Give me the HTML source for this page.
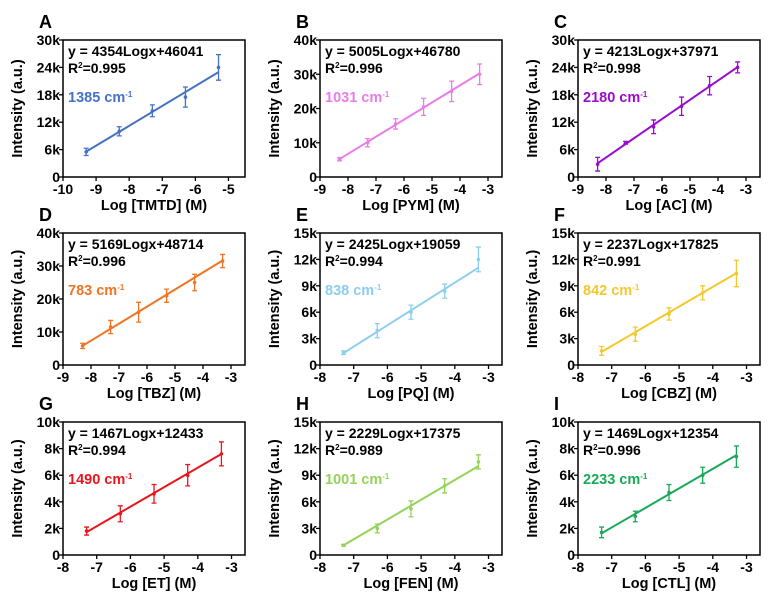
<!DOCTYPE html>
<html><head><meta charset="utf-8"><style>
body{margin:0;background:#fff;}
svg{display:block;font-family:"Liberation Sans",Arial,sans-serif;font-weight:bold;}
</style></head><body>
<svg id="c" width="780" height="596" viewBox="0 0 780 596"></svg>
<script>
const panelLetters=["A","B","C","D","E","F","G","H","I"];
const analytes=["TMTD","PYM","AC","TBZ","PQ","CBZ","ET","FEN","CTL"];
const equations=["y = 4354Logx+46041","y = 5005Logx+46780","y = 4213Logx+37971","y = 5169Logx+48714","y = 2425Logx+19059","y = 2237Logx+17825","y = 1467Logx+12433","y = 2229Logx+17375","y = 1469Logx+12354"];
const slopes=[4354,5005,4213,5169,2425,2237,1467,2229,1469];
const intercepts=[46041,46780,37971,48714,19059,17825,12433,17375,12354];
const r2=["0.995","0.996","0.998","0.996","0.994","0.991","0.994","0.989","0.996"];
const wavenumbers=["1385","1031","2180","783","838","842","1490","1001","2233"];
const colors=["#4472c4","#e97de8","#9a0ccc","#ef7424","#8dcdee","#f5c82c","#e8161c","#94d35a","#18a957"];
const xConc=[[-9.3,-8.3,-7.3,-6.3,-5.3],[-8.3,-7.3,-6.3,-5.3,-4.3,-3.3],[-8.3,-7.3,-6.3,-5.3,-4.3,-3.3],[-8.3,-7.3,-6.3,-5.3,-4.3,-3.3],[-7.3,-6.3,-5.3,-4.3,-3.3],[-7.3,-6.3,-5.3,-4.3,-3.3],[-7.3,-6.3,-5.3,-4.3,-3.3],[-7.3,-6.3,-5.3,-4.3,-3.3],[-7.3,-6.3,-5.3,-4.3,-3.3]];
const intensities=[[5.5,10,14.5,17.5,24],[5.2,10,15.5,20.5,25,30],[2.8,7.5,11,15.5,20,24],[5.8,11.5,16,21,25,31.5],[1.4,3.9,6,8.4,12],[1.6,3.5,5.8,8.2,10.4],[1.8,3.1,4.6,6,7.6],[1.1,3,5.2,7.8,10.5],[1.7,2.9,4.7,6,7.4]];
const errors=[[0.8,1,1.3,2.2,2.8],[0.5,1.2,1.5,2.5,3,3],[1.5,0.3,1.5,2,2,1.2],[0.8,2,3,2,2.5,2],[0.2,0.8,0.8,0.8,1.4],[0.5,0.8,0.7,0.8,1.5],[0.3,0.6,0.7,0.8,0.9],[0.1,0.5,0.9,0.8,0.8],[0.4,0.4,0.6,0.6,0.8]];
const xTicks=[[-10,-9,-8,-7,-6,-5],[-9,-8,-7,-6,-5,-4,-3],[-9,-8,-7,-6,-5,-4,-3],[-9,-8,-7,-6,-5,-4,-3],[-8,-7,-6,-5,-4,-3],[-8,-7,-6,-5,-4,-3],[-8,-7,-6,-5,-4,-3],[-8,-7,-6,-5,-4,-3],[-8,-7,-6,-5,-4,-3]];
const xMax=[-4.5,-2.5,-2.5,-2.5,-2.6,-2.6,-2.6,-2.6,-2.6];
const yTicks=[[0,6,12,18,24,30],[0,10,20,30,40],[0,6,12,18,24,30],[0,10,20,30,40],[0,3,6,9,12,15],[0,3,6,9,12,15],[0,2,4,6,8,10],[0,3,6,9,12,15],[0,2,4,6,8,10]];

const NS="http://www.w3.org/2000/svg";
const svg=document.getElementById('c');
function mk(tag,attrs,parent,text){const e=document.createElementNS(NS,tag);for(const k in attrs)e.setAttribute(k,attrs[k]);if(text!==undefined)e.textContent=text;(parent||svg).appendChild(e);return e;}
const colL=[63,320,578],rowT=[40,233,422],rowH=[137,132,133],W=182;
for(let p=0;p<9;p++){
  const L=colL[p%3],T=rowT[Math.floor(p/3)],H=rowH[Math.floor(p/3)];
  const xt=xTicks[p],yt=yTicks[p];
  const x0=xt[0],x1=xMax[p],yMax=yt[yt.length-1];
  const X=v=>L+(v-x0)/(x1-x0)*W;
  const Y=v=>T+H-(v/yMax)*H;
  const g=mk('g',{});
  
  
  const lt=mk('text',{x:L-24,y:T-12,'font-size':18},g,panelLetters[p]);
  
  xt.forEach(v=>{
    mk('line',{x1:X(v),x2:X(v),y1:T+H,y2:T+H+4,stroke:'#000','stroke-width':1.3},g);
    const t=mk('text',{x:X(v),y:T+H+17,'font-size':14,'text-anchor':'middle'},g,String(v));
    
  });
  yt.forEach(v=>{
    mk('line',{x1:L-4,x2:L,y1:Y(v),y2:Y(v),stroke:'#000','stroke-width':1.3},g);
    const t=mk('text',{x:L-3,y:Y(v)+5,'font-size':14,'text-anchor':'end'},g,v===0?'0':v+'k');
    
  });
  const yl=mk('text',{x:0,y:0,'font-size':14.5,'text-anchor':'middle',transform:`translate(${L-41},${T+H/2}) rotate(-90)`},g,'Intensity (a.u.)');
  
  const xl=mk('text',{x:L+W/2,y:T+H+33,'font-size':14.5,'text-anchor':'middle'},g,'Log ['+analytes[p]+'] (M)');
  
  const xs=xConc[p],ys=intensities[p],es=errors[p],col=colors[p];
  const fa=xs[0],fb=xs[xs.length-1];
  const fit=mk('line',{x1:X(fa),y1:Y((slopes[p]*fa+intercepts[p])/1000),x2:X(fb),y2:Y((slopes[p]*fb+intercepts[p])/1000),stroke:col,'stroke-width':2},g);
  
  xs.forEach((xv,i)=>{
    const cx=X(xv),cy=Y(ys[i]),e1=Y(ys[i]+es[i]),e2=Y(ys[i]-es[i]);
    const eb=mk('path',{d:`M${cx},${e1}V${e2}M${cx-2.5},${e1}h5M${cx-2.5},${e2}h5`,stroke:col,'stroke-width':1.3,fill:'none'},g);
    
    const pt=mk('circle',{cx:cx,cy:cy,r:1.8,fill:col},g);
    
  });
  const eq=mk('text',{x:L+5,y:T+16,'font-size':14},g,equations[p]);
  
  const rr=mk('text',{x:L+5,y:T+33,'font-size':14},g);
  
  rr.innerHTML='R<tspan font-size="8" dy="-5">2</tspan><tspan dy="5">='+r2[p]+'</tspan>';
  const wn=mk('text',{x:L+5,y:T+62,'font-size':14.5,fill:col},g);
  
  wn.innerHTML=wavenumbers[p]+' cm<tspan font-size="8" dy="-5">-1</tspan>';
  mk('rect',{x:L,y:T,width:W,height:H,fill:'none',stroke:'#000','stroke-width':1.5},g);
}
</script>
</body></html>
